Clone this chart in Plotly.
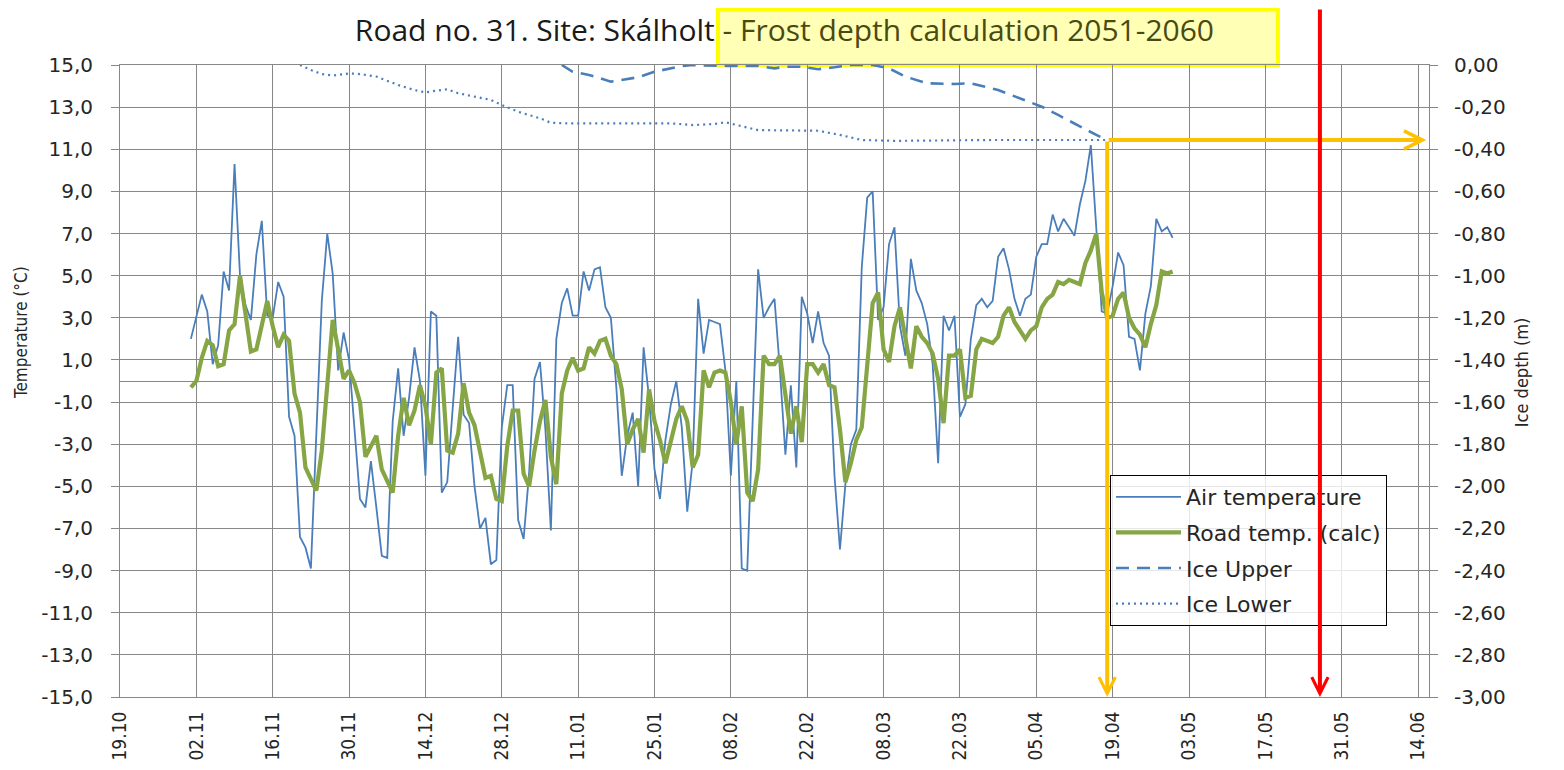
import pandas as pd
import plotly.graph_objects as go


# %% data
axis_start = "2050-10-19"
axis_end = "2051-06-16"
series_start = "2050-11-01"   # first daily value

# daily air temperature (°C), 01.11 -> 30.04
air_temp = [
    2.0, 3.0, 4.1, 3.3, 0.8, 1.7, 5.2, 4.3, 10.3, 5.0,        # 01.11
    3.6, 2.9, 6.0, 7.6, 3.1, 3.0, 4.7, 4.0, -1.7, -2.6,       # 11.11
    -7.4, -7.9, -8.9, -2.5, 3.8, 7.0, 5.1, 0.5, 2.3, 1.0,     # 21.11
    -2.3, -5.6, -6.0, -3.8, -6.0, -8.3, -8.4, -1.9, 0.6, -2.6,  # 01.12
    -0.8, 1.6, 0.0, -4.5, 3.3, 3.1, -5.3, -4.8, -1.3, 2.1,    # 11.12
    -1.6, -2.0, -5.0, -7.0, -6.5, -8.7, -8.5, -2.2, -0.2, -0.2,  # 21.12
    -6.6, -7.5, -4.4, 0.1, 0.9, -2.3, -7.1, 2.0, 3.7, 4.4,    # 31.12
    3.1, 3.1, 5.2, 4.3, 5.3, 5.4, 3.5, 3.0, -0.3, -4.5,       # 10.01
    -2.6, -1.5, -5.0, 1.6, -0.8, -4.2, -5.6, -2.8, -1.1, 0.0,  # 20.01
    -2.2, -6.2, -3.8, 3.9, 1.3, 2.9, 2.8, 2.7, 0.5, -4.5,     # 30.01
    0.0, -8.9, -9.0, -1.5, 5.3, 3.0, 3.5, 3.9, 0.5, -3.5,     # 09.02
    -0.2, -4.1, 4.0, 3.2, 1.8, 3.3, 1.8, 1.2, -4.5, -8.0,     # 19.02
    -4.9, -3.0, -2.3, 5.4, 8.7, 9.0, 2.9, 3.5, 6.5, 7.3,      # 01.03
    2.6, 1.2, 5.8, 4.3, 3.7, 2.7, 0.8, -3.9, 3.1, 2.4,        # 11.03
    3.1, -1.7, -1.1, 2.0, 3.6, 3.9, 3.5, 3.8, 5.9, 6.3,       # 21.03
    5.3, 3.9, 3.1, 3.9, 4.1, 5.9, 6.5, 6.5, 7.9, 7.1,         # 31.03
    7.7, 7.3, 6.9, 8.4, 9.5, 11.2, 7.2, 3.3, 3.2, 4.5,        # 10.04
    6.1, 5.5, 2.1, 2.0, 0.5, 3.2, 4.5, 7.7, 7.1, 7.3,         # 20.04
    6.8,                                                      # 30.04
]

# daily calculated road temperature (°C), 01.11 -> 30.04
road_temp = [
    -0.3, 0.0, 1.1, 1.9, 1.7, 0.7, 0.8, 2.4, 2.7, 5.0,        # 01.11
    3.2, 1.4, 1.5, 2.6, 3.8, 2.6, 1.6, 2.2, 1.9, -0.6,        # 11.11
    -1.5, -4.1, -4.6, -5.2, -3.3, 0.0, 2.9, 1.5, 0.1, 0.5,    # 21.11
    -0.1, -1.0, -3.6, -3.1, -2.6, -4.2, -4.7, -5.3, -2.6, -0.8,  # 01.12
    -2.1, -1.4, -0.2, -1.2, -3.0, 0.4, 0.6, -3.3, -3.4, -2.5,  # 11.12
    -0.1, -1.5, -2.1, -3.4, -4.6, -4.5, -5.6, -5.7, -3.1, -1.4,  # 21.12
    -1.4, -4.4, -5.0, -3.3, -1.9, -0.9, -3.6, -4.9, -0.6, 0.5,  # 31.12
    1.1, 0.5, 0.6, 1.6, 1.3, 1.9, 2.0, 1.2, 0.8, -0.4,        # 10.01
    -3.0, -2.3, -1.8, -3.4, -0.4, -1.9, -2.8, -3.9, -2.8, -1.8,  # 20.01
    -1.2, -1.9, -4.1, -3.5, 0.5, -0.3, 0.4, 0.5, 0.4, -1.0,   # 30.01
    -3.0, -1.2, -5.3, -5.7, -4.2, 1.2, 0.8, 0.8, 1.2, -0.5,   # 09.02
    -2.5, -1.2, -2.9, 0.8, 0.8, 0.4, 0.8, -0.2, -0.3, -2.3,   # 19.02
    -4.8, -3.9, -2.8, -2.2, 0.9, 3.7, 4.2, 1.5, 0.9, 2.6,     # 01.03
    3.5, 2.1, 0.6, 2.6, 2.1, 1.8, 1.3, 0.1, -2.0, 1.2,        # 11.03
    1.2, 1.5, -0.8, -0.7, 1.5, 2.0, 1.9, 1.8, 2.1, 3.1,       # 21.03
    3.5, 2.8, 2.4, 2.0, 2.4, 2.6, 3.5, 3.9, 4.1, 4.7,         # 31.03
    4.6, 4.8, 4.7, 4.6, 5.6, 6.2, 7.0, 4.2, 3.0, 3.1,         # 10.04
    3.9, 4.2, 3.0, 2.5, 2.2, 1.6, 2.7, 3.6, 5.2, 5.1,         # 20.04
    5.2,                                                      # 30.04
]

# ice depth (m), days counted from 19.10
ice_upper_days = [81, 83, 86, 90, 95, 98, 103, 105, 110, 117, 120, 122, 125, 128,
                  131, 134, 138, 141, 144, 148, 153, 156, 161, 165, 169, 172, 176, 179, 181]
ice_upper_depth = [0.0, -0.032, -0.047, -0.079, -0.058, -0.032, -0.005, 0.0, -0.004, -0.005,
                   -0.016, -0.008, -0.008, -0.02, -0.011, 0.0, 0.0, -0.016, -0.055, -0.087,
                   -0.09, -0.087, -0.119, -0.158, -0.198, -0.237, -0.293, -0.332, -0.356]

ice_lower_days = [33, 35, 37, 39, 42, 44, 47, 49, 51, 54, 56, 58, 60, 62, 65, 68, 70, 73,
                  77, 79, 82, 90, 101, 105, 109, 111, 114, 117, 128, 132, 136, 142, 160, 181]
ice_lower_depth = [0.0, -0.024, -0.043, -0.05, -0.04, -0.043, -0.055, -0.074, -0.095, -0.119,
                   -0.13, -0.122, -0.115, -0.134, -0.15, -0.166, -0.19, -0.222, -0.253, -0.274,
                   -0.277, -0.277, -0.277, -0.285, -0.28, -0.272, -0.29, -0.309, -0.312, -0.332,
                   -0.356, -0.36, -0.356, -0.356]

temp_ticks = [15, 13, 11, 9, 7, 5, 3, 1, -1, -3, -5, -7, -9, -11, -13, -15]
temp_labels = ["15,0", "13,0", "11,0", "9,0", "7,0", "5,0", "3,0", "1,0",
               "-1,0", "-3,0", "-5,0", "-7,0", "-9,0", "-11,0", "-13,0", "-15,0"]
depth_ticks = [0, -0.2, -0.4, -0.6, -0.8, -1.0, -1.2, -1.4, -1.6, -1.8,
               -2.0, -2.2, -2.4, -2.6, -2.8, -3.0]
depth_labels = ["0,00", "-0,20", "-0,40", "-0,60", "-0,80", "-1,00", "-1,20", "-1,40",
                "-1,60", "-1,80", "-2,00", "-2,20", "-2,40", "-2,60", "-2,80", "-3,00"]

frost_date = "2051-04-18"        # orange marker
frost_end_depth = -0.356
arrow_right_date = "2051-06-15 12:00"
thaw_date = "2051-05-27"         # red marker

# %% build
days = pd.date_range(series_start, periods=len(air_temp), freq="D")
base = pd.Timestamp(axis_start)
upper_dates = base + pd.to_timedelta(ice_upper_days, unit="D")
lower_dates = base + pd.to_timedelta(ice_lower_days, unit="D")

grid = "#878787"
blue = "#4a7ebb"
green = "#86a544"
DAY = 86400000
narrow = "DejaVu Sans Condensed"

data = [
    go.Scatter(x=days, y=air_temp, name="Air temperature", mode="lines",
               line=dict(color=blue, width=1.8), legendgroup="a"),
    go.Scatter(x=days, y=road_temp, name="Road temp. (calc)", mode="lines",
               line=dict(color=green, width=4.2), legendgroup="b"),
    go.Scatter(x=upper_dates, y=ice_upper_depth, name="Ice Upper", mode="lines", yaxis="y2",
               line=dict(color=blue, width=2.6, dash="13px,8px"), legendgroup="c"),
    go.Scatter(x=lower_dates, y=ice_lower_depth, name="Ice Lower", mode="lines", yaxis="y2",
               line=dict(color=blue, width=2.2, dash="2px,4px"), legendgroup="d"),
]

tick_font = dict(family="DejaVu Sans", size=20, color="#262626")

# the page body adds an 8px margin, so the figure is 16px smaller than the window
layout = go.Layout(
    width=1548, height=754,
    margin=dict(l=112, r=127, t=57, b=65),
    plot_bgcolor="white", paper_bgcolor="white",
    title=dict(text='Road no. 31. Site: Skálholt '
                    '<span style="color:#4a4a12">- Frost depth calculation 2051-2060</span>',
               x=0.5076, xref="paper", xanchor="center",
               y=1 - 22 / 754, yref="container", yanchor="middle",
               font=dict(family="Open Sans", size=30, color="#1a1a1a")),
    xaxis=dict(type="date", range=[axis_start, axis_end], dtick=14 * DAY, tick0=axis_start,
               tickformat="%d.%m", tickangle=-90, ticks="", ticklabelstandoff=6,
               tickfont=dict(family=narrow, size=19, color="#262626"), automargin=False,
               showgrid=True, gridcolor=grid, gridwidth=1,
               showline=True, mirror=True, linecolor=grid, linewidth=1, zeroline=False),
    xaxis2=dict(type="date", overlaying="x", anchor="free", position=0.5, matches="x",
                dtick=7 * DAY, tick0=axis_start, ticks="outside", ticklen=5,
                tickcolor=grid, showticklabels=False, showgrid=False,
                showline=False, zeroline=False),
    yaxis=dict(range=[-15, 15], tickvals=temp_ticks, ticktext=temp_labels,
               tickfont=tick_font, ticks="outside", ticklen=8, tickcolor=grid,
               ticklabelstandoff=14, automargin=False,
               showgrid=True, gridcolor=grid, gridwidth=1,
               showline=True, linecolor=grid, linewidth=1,
               zeroline=True, zerolinecolor=grid, zerolinewidth=1),
    yaxis2=dict(range=[-3, 0], overlaying="y", side="right", tickvals=depth_ticks,
                ticktext=depth_labels, tickfont=tick_font, ticks="outside", ticklen=8,
                tickcolor=grid, ticklabelstandoff=12, showgrid=False, automargin=False,
                showline=True, linecolor=grid, linewidth=1, zeroline=False),
    legend=dict(x=0.7563, y=0.3513, xanchor="left", yanchor="top",
                bgcolor="rgba(255,255,255,0.8)", bordercolor="#000000", borderwidth=1,
                font=dict(family="DejaVu Sans", size=22, color="#262626"),
                traceorder="grouped", tracegroupgap=4, itemwidth=65),
    shapes=[
        dict(type="rect", xref="paper", yref="paper", x0=0.4568, x1=0.8846, y0=1.0, y1=1.088,
             line=dict(color="#ffff00", width=4), fillcolor="rgba(255,255,120,0.55)",
             layer="below"),
    ],
    annotations=[
        # axis titles
        dict(text="Temperature (°C)", xref="paper", yref="paper", x=-0.0756, y=0.576,
             xanchor="center", yanchor="middle", textangle=-90, showarrow=False,
             font=dict(family=narrow, size=17, color="#262626")),
        dict(text="Ice depth (m)", xref="paper", yref="paper", x=1.0703, y=0.514,
             xanchor="center", yanchor="middle", textangle=-90, showarrow=False,
             font=dict(family=narrow, size=18, color="#262626")),
        # orange frost-depth arrows
        dict(text="", x=frost_date, y=-3.0, xref="x", yref="y2",
             ax=frost_date, ay=frost_end_depth, axref="x", ayref="y2",
             showarrow=True, arrowhead=5, arrowsize=0.8, arrowwidth=4, arrowcolor="#ffc000",
             standoff=0),
        dict(text="", x=arrow_right_date, y=frost_end_depth, xref="x", yref="y2",
             ax=frost_date, ay=frost_end_depth, axref="x", ayref="y2",
             showarrow=True, arrowhead=5, arrowsize=0.9, arrowwidth=4, arrowcolor="#ffc000",
             standoff=0),
        # red thaw arrow
        dict(text="", x=thaw_date, y=0, xref="x", yref="y domain",
             ax=thaw_date, ay=1.09, axref="x", ayref="y domain",
             showarrow=True, arrowhead=5, arrowsize=0.8, arrowwidth=4, arrowcolor="#ff0000",
             standoff=0),
    ],
)

fig = go.Figure(data=data, layout=layout)
fig.write_html("out.html")
